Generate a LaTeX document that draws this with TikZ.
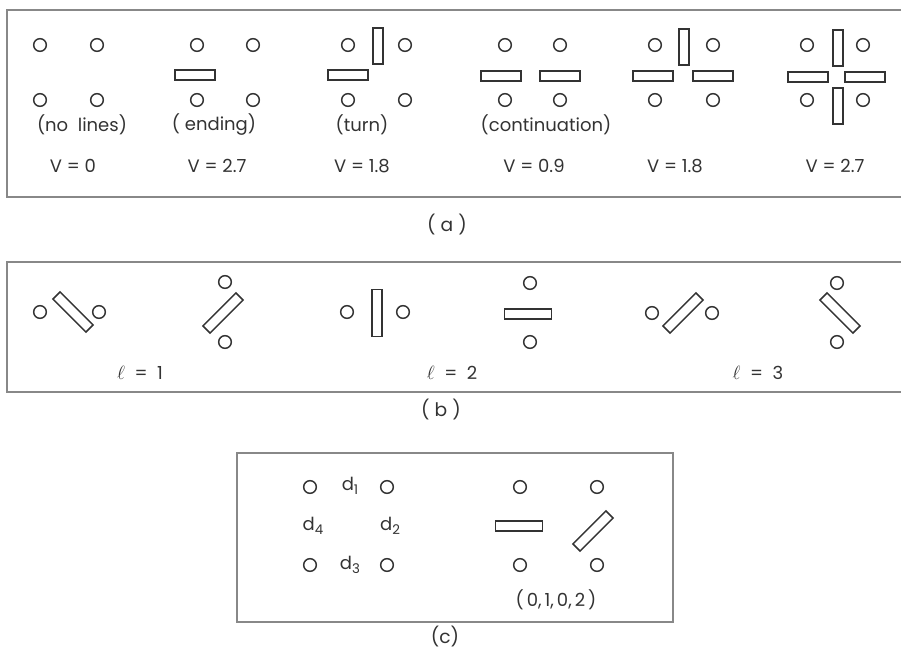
\documentclass[tikz,border=0pt]{standalone}
\usepackage{fontspec}
\setmainfont{Poppins}
\newcommand{\sbx}[1]{\raisebox{-0.45ex}{\fontsize{10}{10}\selectfont #1}}
\begin{document}
\begin{tikzpicture}[x=0.75pt,y=-0.75pt,
  dot/.style={circle,draw=ink,line width=1.1pt,minimum size=9.5pt,inner sep=0pt},
  hbar/.style={rectangle,draw=ink,line width=1.1pt,minimum width=30pt,minimum height=7.5pt,inner sep=0pt},
  vbar/.style={rectangle,draw=ink,line width=1.1pt,minimum width=7.5pt,minimum height=27pt,inner sep=0pt},
  lbar/.style={rectangle,draw=ink,line width=1.1pt,minimum width=35pt,minimum height=7.5pt,inner sep=0pt},
  frame/.style={draw=boxgray,line width=0.8pt},
  lab/.style={font=\fontsize{13.5}{15}\selectfont,text=ink,inner sep=0pt},
  captext/.style={font=\fontsize{14}{16}\selectfont,text=ink,inner sep=0pt}]
\definecolor{ink}{HTML}{333333}
\definecolor{boxgray}{HTML}{888888}
\useasboundingbox (0,0) rectangle (901,650);
% ---------- panel (a) ----------
\draw[frame] (901,10) -- (7,10) -- (7,197) -- (901,197);
% group 1
\node[dot] (a1a) at (40,45) {};
\node[dot] (a1b) at (97,45) {};
\node[dot] (a1c) at (40,100) {};
\node[dot] (a1d) at (97,100) {};
\node[lab] (a1t) at (82,125) {(no\ \ lines)};
\node[lab] (a1v) at (73,166) {V\ = 0};
% group 2
\node[dot] (a2a) at (197,45) {};
\node[dot] (a2b) at (253,45) {};
\node[dot] (a2c) at (197,100) {};
\node[dot] (a2d) at (253,100) {};
\node[hbar] (a2h) at (195,75) {};
\node[lab] (a2t) at (214,125) {(\ ending)};
\node[lab] (a2v) at (217,166) {V = 2.7};
% group 3
\node[dot] (a3a) at (348,45) {};
\node[dot] (a3b) at (405,45) {};
\node[dot] (a3c) at (348,100) {};
\node[dot] (a3d) at (405,100) {};
\node[hbar] (a3h) at (348,75) {};
\node[vbar] (a3v) at (378,46) {};
\node[lab] (a3t) at (362,125) {(turn)};
\node[lab] (a3v2) at (362,166) {V = 1.8};
% group 4
\node[dot] (a4a) at (505,45) {};
\node[dot] (a4b) at (560,45) {};
\node[dot] (a4c) at (505,100) {};
\node[dot] (a4d) at (560,100) {};
\node[hbar] (a4h) at (501,76) {};
\node[hbar] (a4i) at (560,76) {};
\node[lab] (a4t) at (546,125) {(continuation)};
\node[lab] (a4v) at (534,166) {V = 0.9};
% group 5
\node[dot] (a5a) at (655,45) {};
\node[dot] (a5b) at (713,45) {};
\node[dot] (a5c) at (655,100) {};
\node[dot] (a5d) at (713,100) {};
\node[hbar] (a5h) at (653,76) {};
\node[hbar] (a5i) at (713,76) {};
\node[vbar] (a5v) at (684,47) {};
\node[lab] (a5v2) at (675,166) {V = 1.8};
% group 6
\node[dot] (a6a) at (807,45) {};
\node[dot] (a6b) at (863,45) {};
\node[dot] (a6c) at (807,100) {};
\node[dot] (a6d) at (863,100) {};
\node[hbar] (a6h) at (808,77) {};
\node[hbar] (a6i) at (865,77) {};
\node[vbar] (a6v) at (838,48) {};
\node[vbar] (a6w) at (838,106) {};
\node[lab] (a6v2) at (835,166) {V\ = 2.7};
\node[captext] (capa) at (447,225) {( a )};
% ---------- panel (b) ----------
\draw[frame] (901,262) -- (7,262) -- (7,392) -- (901,392);
\node[dot] (b1a) at (40,312) {};
\node[dot] (b1b) at (99,312) {};
\node[lbar,rotate=-45] (b1r) at (73,312) {};
\node[dot] (b2a) at (225,282) {};
\node[dot] (b2b) at (225,342) {};
\node[lbar,rotate=45] (b2r) at (223,313) {};
\node[dot] (b3a) at (347,312) {};
\node[dot] (b3b) at (403,312) {};
\node[lbar,rotate=90] (b3r) at (377,313) {};
\node[dot] (b4a) at (530,283) {};
\node[dot] (b4b) at (530,342) {};
\node[lbar] (b4r) at (528,314) {};
\node[dot] (b5a) at (652,313) {};
\node[dot] (b5b) at (712,313) {};
\node[lbar,rotate=45] (b5r) at (683,313) {};
\node[dot] (b6a) at (837,283) {};
\node[dot] (b6b) at (837,342) {};
\node[lbar,rotate=-45] (b6r) at (840,313) {};
\node[lab] (bl1) at (140,373) {$\ell$ \ = \ 1};
\node[lab] (bl2) at (452,373) {$\ell$ \ = \ 2};
\node[lab] (bl3) at (758,373) {$\ell$ \ = \ 3};
\node[captext] (capb) at (441,410) {( b )};
% ---------- panel (c) ----------
\draw[frame] (237,453) rectangle (673,622);
\node[dot] (c1a) at (310,487) {};
\node[dot] (c1b) at (387,487) {};
\node[dot] (c1c) at (310,565) {};
\node[dot] (c1d) at (387,565) {};
\node[lab] (d1) at (350,486) {d\sbx{1}};
\node[lab] (d4) at (313,526) {d\sbx{4}};
\node[lab] (d2) at (390,526) {d\sbx{2}};
\node[lab] (d3) at (350,565) {d\sbx{3}};
\node[dot] (c2a) at (520,487) {};
\node[dot] (c2b) at (597,487) {};
\node[dot] (c2c) at (520,565) {};
\node[dot] (c2d) at (597,565) {};
\node[lbar] (c2h) at (519,526) {};
\node[lbar,rotate=45] (c2r) at (593,531) {};
\node[lab] (c2t) at (556,600) {(\,0,\,1,\,0,\,2\,)};
\node[captext] (capc) at (445,637) {(c)};
\end{tikzpicture}
\end{document}
